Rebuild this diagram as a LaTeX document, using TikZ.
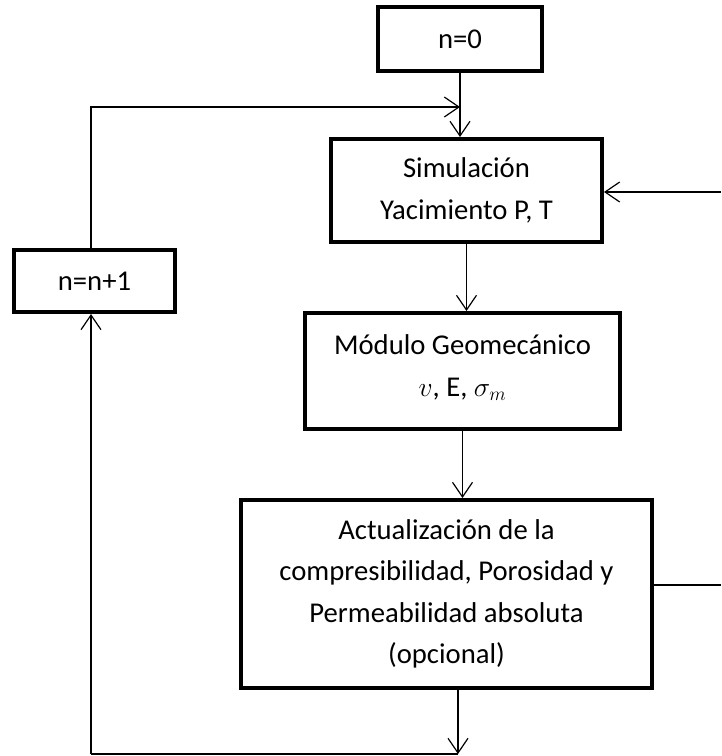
\documentclass[tikz,border=0pt]{standalone}
\usepackage{fontspec}
\setmainfont{Carlito}
\usetikzlibrary{arrows.meta}
\begin{document}
\begin{tikzpicture}[x=0.75pt,y=-0.75pt,
  box/.style={draw,line width=3pt,align=center,inner sep=2pt,
    font=\fontsize{21.5}{31}\selectfont},
  conn/.style={line width=0.9pt},
  arr/.style={conn,-{Straight Barb[length=11pt,width=15pt,line width=0.9pt]}}]
\useasboundingbox (0,0) rectangle (721,756);
\node[box,minimum width=123pt,minimum height=48pt] (n0) at (460,39) {n=0};
\node[box,minimum width=203.25pt,minimum height=77.25pt] (sim) at (466.5,190.5) {Simulación\\Yacimiento P, T};
\node[box,minimum width=120.75pt,minimum height=46.5pt] (nn1) at (94.5,281) {n=n+1};
\node[box,minimum width=236.25pt,minimum height=87pt] (mod) at (462.5,371) {Módulo Geomecánico\\$v$, E, $\sigma_m$\rule[-8pt]{0pt}{8pt}};
\node[box,minimum width=308.25pt,minimum height=141pt] (act) at (446.5,594) {Actualización de la\\compresibilidad, Porosidad y\\Permeabilidad absoluta\\(opcional)};
\coordinate (topL) at (91,107);
\coordinate (botL) at (91,754);
\coordinate (botR) at (458,754);
\coordinate (rTop) at (721,192);
\coordinate (rBot) at (721,585);
\draw[arr] (n0) -- (n0 |- sim.north);
\draw[arr] (nn1.north -| topL) -- (topL) -- (topL -| n0);
\draw[arr] (sim.south) -- (sim.south |- mod.north);
\draw[arr] (mod.south) -- (mod.south |- act.north);
\draw[arr] (act.south -| botR) -- (botR);
\draw[conn] (botR) -- (botL);
\draw[arr] (botL) -- (botL |- nn1.south);
\draw[arr] (rTop) -- (rTop -| sim.east);
\draw[conn] (act.east |- rBot) -- (rBot);
\end{tikzpicture}
\end{document}
